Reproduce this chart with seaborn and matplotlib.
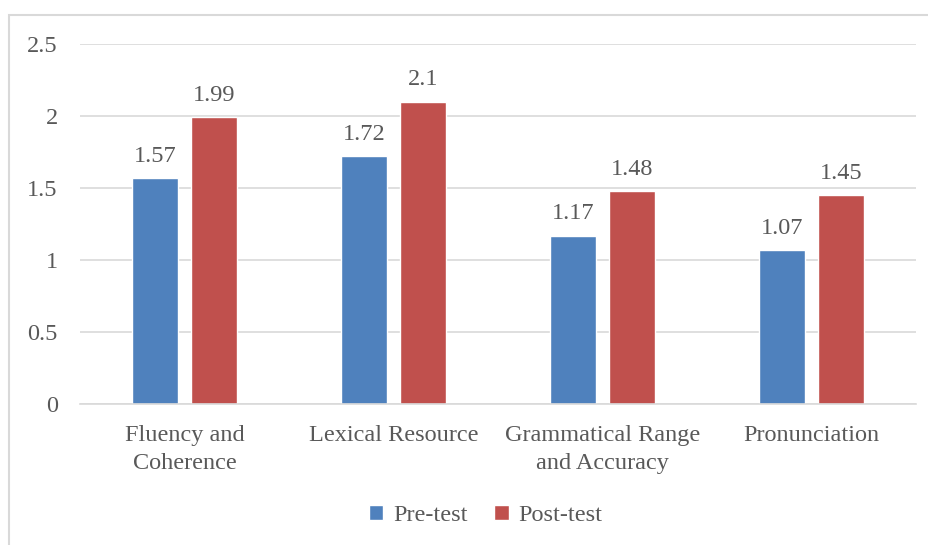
import pandas as pd
import matplotlib.pyplot as plt
import seaborn as sns
from matplotlib.patches import Rectangle

# chart values
categories = ['Fluency and\nCoherence', 'Lexical Resource', 'Grammatical Range\nand Accuracy', 'Pronunciation']
pre_test = [1.57, 1.72, 1.17, 1.07]
post_test = [1.99, 2.1, 1.48, 1.45]
series = ['Pre-test', 'Post-test']
colors = ['#4F81BD', '#C0504D']
yticks = [0, 0.5, 1, 1.5, 2, 2.5]

# long form table for seaborn
df = pd.DataFrame({
    'category': categories * 2,
    'score': pre_test + post_test,
    'test': [series[0]] * 4 + [series[1]] * 4,
})

sns.set_style('white')
plt.rcParams['font.family'] = ['Liberation Serif', 'DejaVu Serif']
text_color = '#595959'
fs = 17.5

fig = plt.figure(figsize=(9.29, 5.45), dpi=100)
ax = fig.add_axes([0.0861, 0.2587, 0.8999, 0.6606])

sns.barplot(data=df, x='category', y='score', hue='test', palette=colors,
            width=0.565, gap=0.22, saturation=1, ax=ax, legend=True)

for cont in ax.containers:
    ax.bar_label(cont, labels=[f'{v:g}' for v in cont.datavalues],
                 padding=8, fontsize=fs, color=text_color)

ax.set_ylim(0, 2.5)
ax.set_xlim(-0.5, 3.5)
ax.set_yticks(yticks)
ax.set_yticklabels([f'{t:g}' for t in yticks])
ax.yaxis.grid(True, color='#D9D9D9', linewidth=1.2)
ax.set_axisbelow(True)
for s in ['top', 'right', 'left']:
    ax.spines[s].set_visible(False)
ax.spines['bottom'].set_color('#D9D9D9')
ax.spines['bottom'].set_linewidth(1.2)
ax.tick_params(axis='both', length=0, labelsize=fs, colors=text_color)
ax.tick_params(axis='y', pad=16)
ax.tick_params(axis='x', pad=15)
for lbl in ax.get_xticklabels():
    lbl.set_linespacing(1.45)
ax.set_xlabel('')
ax.set_ylabel('')

ax.legend(loc='center', bbox_to_anchor=(0.485, -0.31), ncol=2, frameon=False,
          fontsize=fs, labelcolor=text_color, handlelength=0.6, handleheight=0.6,
          handletextpad=0.4, columnspacing=1.1)

# outer chart frame
fig.patches.append(Rectangle((9 / 929, -0.01), 1.0, 1 - 15 / 545 + 0.01,
                             transform=fig.transFigure, fill=False,
                             edgecolor='#D9D9D9', linewidth=1.5))

fig.savefig('out.png', dpi=100)
